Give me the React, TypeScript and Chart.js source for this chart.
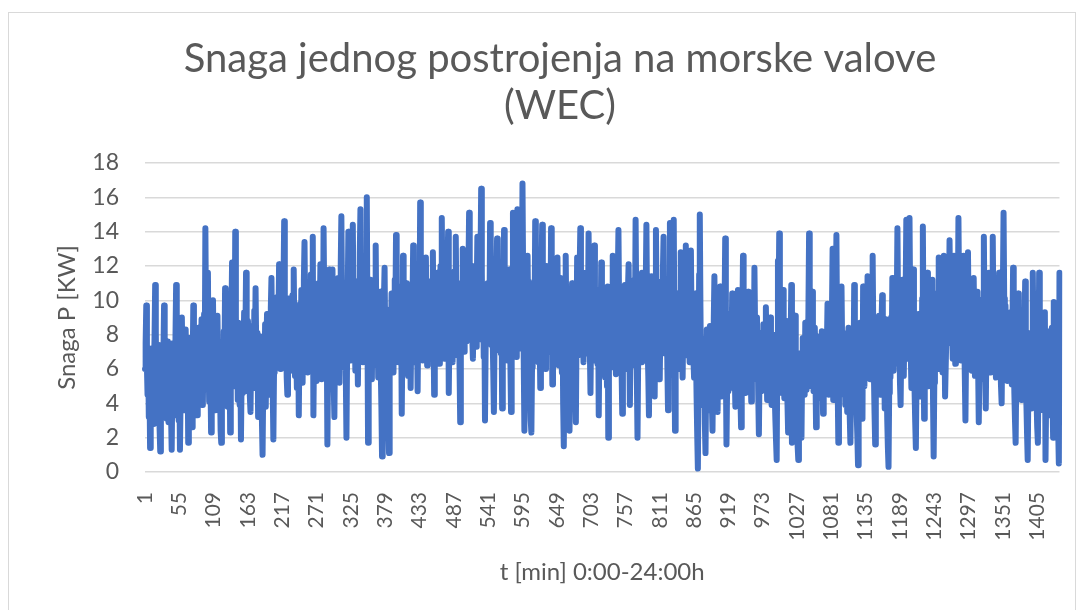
import React, { useEffect, useRef } from 'react';
import { Chart, registerables } from 'chart.js';

Chart.register(...registerables);

// Power of one wave energy converter, one value per minute, grouped per hour
const hour00 = [6.0,7.5,9.7,6.2,4.5,7.0,3.2,5.5,1.4,4.8, 7.2,3.5,6.1,2.8,5.9,7.8,10.9,8.2,4.1,6.6, 3.0,7.4,5.2,2.5,1.2,4.4,7.1,5.6,3.6,6.8, 9.7,7.3,4.2,6.0,3.1,7.6,5.0,2.9,6.4,4.6, 7.2,3.4,1.3,5.1,7.5,4.0,6.3,3.3,7.9,10.9, 8.0,4.7,6.5,3.0,5.7,1.3,4.3,6.9,9.0,6.2];
const hour01 = [5.8,3.6,7.4,4.9,8.3,6.0,3.8,6.7,1.7,5.2, 7.8,4.4,6.9,3.9,2.6,6.2,9.7,7.1,4.6,8.0, 5.5,3.7,3.3,6.4,8.4,5.0,7.3,4.2,6.8,8.9, 5.3,3.9,7.0,9.2,6.1,14.2,8.8,5.4,7.7,11.6, 6.5,4.1,8.1,5.6,2.3,6.0,7.9,10.0,6.3,4.5, 7.6,3.6,6.7,5.0,9.1,6.4,3.9,7.2,5.1,2.4];
const hour02 = [1.7,5.3,7.6,4.8,8.2,6.1,10.7,7.4,4.3,6.9, 3.8,7.7,5.2,8.4,2.3,6.3,9.0,12.2,7.5,5.0, 8.6,6.4,14.0,9.1,5.6,7.8,4.2,8.7,6.0,3.9, 7.1,1.9,5.5,8.3,4.6,7.0,9.3,6.2,8.0,11.6, 7.2,4.7,8.8,5.9,7.4,4.4,3.5,6.6,8.5,5.3, 7.9,4.9,9.4,6.8,10.7,7.3,5.0,8.1,3.2,6.0];
const hour03 = [5.6,7.9,4.1,6.8,3.0,1.0,4.9,7.5,5.4,8.6, 3.8,6.9,9.2,5.7,7.8,4.5,8.9,6.3,9.6,11.3, 7.4,4.8,1.9,5.8,8.2,6.1,9.5,7.0,10.2,6.6, 8.8,12.1,8.5,6.0,9.7,7.2,10.4,8.0,11.0,14.6, 9.9,6.7,8.7,5.5,4.5,7.6,10.1,6.4,9.0,5.9, 8.3,6.8,10.3,7.1,11.8,8.4,5.6,9.3,7.0,4.9];
const hour04 = [6.2,8.9,3.3,7.3,9.8,6.5,10.6,7.8,5.2,9.1, 11.2,13.4,9.4,6.9,10.5,7.5,5.8,9.0,6.4,10.8, 8.1,11.5,7.3,9.9,13.7,3.3,7.0,10.0,6.0,8.7, 5.3,9.6,7.1,11.0,6.6,8.9,12.1,7.7,5.4,9.4, 6.8,14.2,10.2,7.0,9.3,5.6,8.2,1.6,5.9,8.8, 11.8,7.6,9.7,6.1,8.6,11.8,7.2,5.0,3.2,7.4];
const hour05 = [8.2,10.4,6.3,9.0,11.3,7.4,5.2,9.8,12.0,14.9, 10.1,7.0,9.5,6.1,10.6,8.0,5.6,2.0,6.8,10.3, 14.0,9.7,7.3,10.9,6.5,8.9,11.6,14.4,10.0,7.6, 9.2,5.9,8.4,11.1,7.9,5.1,8.8,10.7,12.8,15.3, 10.5,7.2,9.6,6.4,11.4,8.3,10.9,6.7,12.5,16.0, 9.1,1.7,6.3,9.9,7.5,11.2,8.5,5.4,9.4,7.0];
const hour06 = [9.3,6.6,10.2,13.2,9.0,6.2,8.7,5.5,9.8,7.1, 10.5,6.0,3.8,0.9,5.2,8.4,10.1,11.9,7.6,9.5, 6.3,8.1,4.4,2.5,1.1,5.9,8.6,6.8,10.4,7.3, 9.7,5.8,8.9,11.2,9.2,13.8,10.0,7.0,9.4,6.4, 10.8,8.2,6.9,9.6,3.4,7.5,12.6,9.1,6.6,10.3, 7.8,11.0,6.1,8.5,5.6,9.9,7.2,10.6,4.9,8.0];
const hour07 = [7.4,10.1,13.2,9.3,6.4,10.7,7.9,11.4,8.2,4.7, 8.8,11.8,9.0,15.7,10.4,7.1,9.7,6.5,10.9,8.4, 11.3,7.6,12.5,9.2,6.2,10.2,8.0,11.1,6.9,9.5, 7.3,10.6,8.6,12.8,8.3,4.5,7.8,10.8,6.7,9.4, 11.6,7.7,10.0,6.3,9.1,12.0,9.8,14.8,10.5,7.2, 9.9,6.6,11.5,8.7,10.3,7.0,11.9,14.0,4.6,8.1];
const hour08 = [10.4,7.5,11.2,8.6,6.4,10.0,7.9,11.7,9.3,13.7, 9.6,6.8,10.6,8.1,11.0,6.0,2.9,7.4,10.2,8.5, 13.0,9.9,7.0,11.4,8.8,10.8,7.6,12.2,9.4,11.8, 15.1,10.7,8.3,11.5,9.0,7.8,6.6,9.7,12.0,8.9, 11.1,7.3,10.5,13.7,9.5,7.7,11.3,8.4,12.4,16.5, 11.6,8.0,10.9,6.7,9.2,3.0,7.2,10.1,8.2,11.0];
const hour09 = [7.9,10.8,8.5,14.5,10.2,7.4,11.0,8.0,5.9,3.5, 7.6,10.4,8.6,11.6,13.6,9.8,7.1,10.7,8.2,11.3, 6.9,9.5,3.7,7.7,10.9,14.1,10.0,7.5,11.2,8.8, 6.5,10.3,8.4,11.8,9.1,6.3,3.5,8.1,11.4,15.1, 10.6,7.8,11.9,9.3,6.7,10.1,15.3,11.7,8.3,10.5, 7.2,9.6,12.3,9.0,16.8,11.5,6.4,2.4,7.0,10.2];
const hour10 = [9.4,6.8,12.6,9.0,11.1,7.3,4.9,3.0,2.3,6.1, 9.9,7.7,11.0,8.5,14.6,10.3,7.2,11.5,8.9,6.4, 10.6,8.0,4.9,8.7,11.9,14.4,10.1,7.6,11.2,8.3, 6.0,9.7,12.0,8.6,10.8,7.0,9.5,11.7,8.2,14.2, 9.8,5.1,8.8,11.4,7.5,10.0,6.6,9.3,7.9,12.5, 9.1,6.2,10.4,7.4,11.3,8.1,5.8,9.6,4.0,1.5];
const hour11 = [6.2,9.4,12.6,8.8,6.0,10.1,7.3,4.6,2.4,6.7, 9.8,7.5,11.0,8.4,6.1,9.6,7.0,5.2,2.9,7.8, 12.5,9.3,6.8,10.5,11.8,14.2,10.0,7.4,11.3,8.6, 6.4,10.2,7.9,11.6,8.1,6.9,10.7,9.0,13.9,10.4, 7.1,4.6,8.3,11.1,7.7,9.9,6.5,13.2,9.5,7.2, 10.6,8.0,6.3,9.7,3.3,7.6,10.3,8.5,12.2,8.9];
const hour12 = [7.1,10.0,6.4,8.9,5.5,9.3,7.0,5.0,10.8,2.0, 6.6,9.6,7.3,10.4,8.2,6.1,12.6,9.1,6.9,10.5, 7.8,5.7,9.4,7.2,11.3,14.1,9.8,6.7,10.2,7.5, 5.8,3.4,7.0,9.7,6.3,10.9,8.4,6.0,9.2,7.4, 10.6,12.1,8.0,3.9,7.6,10.3,8.7,6.2,9.5,7.1, 11.2,8.6,14.7,9.9,5.4,2.0,6.5,9.0,7.3,11.5];
const hour13 = [8.1,6.4,11.6,8.3,10.5,7.0,9.4,6.5,10.9,14.4, 9.7,7.2,5.6,3.3,7.5,10.2,8.0,11.4,8.5,6.6, 9.8,7.4,4.4,9.0,14.1,10.0,7.7,11.1,8.2,6.8, 5.4,8.8,10.7,7.6,9.5,11.8,13.7,9.3,6.9,10.4, 7.3,9.9,6.1,3.6,7.9,10.8,14.5,10.1,7.0,9.6, 6.7,11.0,14.7,8.4,2.4,6.3,9.2,7.1,10.3,6.0];
const hour14 = [9.2,6.9,10.5,12.8,9.0,7.4,5.5,8.6,11.0,7.8, 9.7,13.2,9.4,6.8,10.1,7.5,9.3,6.4,10.6,12.9, 8.8,7.1,9.9,6.6,5.5,8.2,10.4,7.0,4.3,2.1, 0.2,6.0,11.5,15.0,9.6,5.2,7.8,3.9,6.5,4.2, 7.0,2.8,1.1,5.4,8.3,4.6,7.4,3.6,6.9,8.5, 5.0,7.6,4.1,2.4,6.2,8.8,11.4,7.2,4.8,8.0];
const hour15 = [5.7,3.5,7.3,5.1,8.2,10.8,6.8,4.4,7.9,5.3, 8.7,6.1,9.5,13.6,6.4,1.6,5.0,7.7,4.7,8.5, 6.2,9.2,5.6,7.4,10.4,7.0,4.9,8.1,5.8,3.8, 7.1,9.0,6.3,10.6,7.6,5.2,8.4,4.3,2.6,6.6, 9.1,12.6,8.0,5.5,7.8,4.6,8.9,6.7,5.1,10.5, 7.2,4.8,8.3,6.0,4.1,7.5,5.4,8.6,6.5,11.9];
const hour16 = [8.4,6.1,9.0,5.4,7.6,4.5,2.2,5.8,8.1,6.3, 4.7,7.9,5.5,8.6,6.0,4.9,7.3,9.6,6.6,4.2, 7.0,5.3,8.2,6.4,9.0,5.7,3.9,7.5,5.0,8.0, 6.2,4.4,3.0,1.8,0.7,7.0,12.3,9.5,13.9,8.7, 5.6,7.8,4.6,8.3,10.6,6.9,4.3,7.4,5.9,8.8, 6.5,4.0,2.3,6.1,8.5,5.2,7.7,10.9,1.7,5.6];
const hour17 = [6.8,4.6,7.5,9.1,6.2,4.0,2.9,1.5,0.7,4.4, 6.9,5.1,3.6,2.0,5.7,7.8,5.3,6.6,4.5,8.7, 6.3,4.8,7.1,5.4,9.6,13.9,8.0,5.9,7.6,5.0, 10.5,7.2,4.7,6.5,8.4,5.6,2.6,5.2,7.9,4.3, 6.7,5.1,7.7,4.9,6.4,8.2,5.5,3.4,6.0,7.4, 4.6,8.0,6.1,7.3,9.8,6.8,4.5,7.6,5.3,8.6];
const hour18 = [6.9,9.4,13.0,4.2,7.1,10.3,6.5,9.9,13.8,8.2, 5.0,1.7,5.8,8.0,6.3,4.8,10.8,7.4,5.2,8.1, 4.5,6.7,3.9,7.2,5.6,3.5,6.0,8.4,5.1,3.2, 1.7,4.9,7.0,5.4,8.3,6.2,10.9,7.5,4.6,6.8, 3.3,2.0,0.4,4.1,6.6,8.7,5.5,7.7,4.7,3.1, 10.8,7.3,5.0,8.5,6.1,9.2,7.0,11.4,8.0,8.9];
const hour19 = [7.8,5.4,8.6,6.2,9.5,12.6,8.1,5.7,3.4,1.6, 5.0,7.6,4.8,8.3,6.0,9.1,6.9,4.5,7.4,8.8, 10.3,7.0,5.3,8.0,3.7,6.4,8.9,5.8,3.0,1.4, 0.3,4.6,7.7,5.5,9.0,6.7,11.3,8.2,5.9,9.3, 7.1,10.2,6.5,9.8,14.2,9.6,6.3,8.4,5.2,3.9, 7.3,9.4,11.2,7.9,5.6,8.7,6.8,10.7,14.7,9.7];
const hour20 = [6.6,9.9,7.2,14.8,10.0,7.0,4.9,8.4,6.1,11.8, 7.5,4.7,2.9,1.4,5.3,8.0,6.2,9.2,5.6,7.8, 4.4,8.6,6.5,10.1,14.3,8.3,3.1,6.9,9.0,5.9, 8.2,11.6,7.4,5.0,8.8,6.4,9.5,7.1,5.4,11.2, 4.3,0.9,5.2,8.5,6.8,10.4,7.6,9.6,6.0,12.5, 9.1,7.3,10.6,6.7,9.3,5.8,8.9,12.6,8.1,4.4];
const hour21 = [4.4,8.0,10.9,7.7,11.5,9.4,13.5,10.2,7.5,11.0, 8.4,6.6,9.8,12.6,8.9,6.3,10.1,7.9,11.3,9.0, 14.8,10.5,7.4,9.7,6.5,10.3,8.1,11.1,12.6,8.6, 5.7,3.0,6.9,9.9,7.8,12.8,9.3,6.8,10.4,7.2, 9.1,5.9,8.7,6.4,11.3,8.3,5.6,9.5,7.0,8.5, 10.5,6.1,2.9,6.2,8.8,5.4,7.6,10.0,6.9,9.2];
const hour22 = [13.7,9.1,6.0,3.7,7.3,9.6,6.6,8.9,11.6,8.0, 5.8,9.4,7.1,10.3,13.7,9.2,6.7,10.0,7.6,5.5, 8.7,6.2,9.5,7.4,11.6,8.2,6.4,5.0,4.0,7.8, 10.9,15.1,10.1,7.0,9.7,6.3,8.6,5.3,9.0,6.9, 8.1,5.7,9.3,7.2,5.1,8.4,11.9,7.5,4.6,3.0, 1.7,5.6,8.0,6.1,10.4,7.3,4.9,8.3,6.5,4.2];
const hour23 = [6.8,4.5,7.4,5.2,8.3,11.1,6.6,3.9,2.2,0.7, 4.8,7.0,5.3,8.1,6.0,3.7,7.5,11.6,7.9,5.4, 8.5,4.7,6.9,4.0,2.6,1.7,6.2,11.6,7.3,5.0, 8.0,4.4,6.7,3.6,7.2,5.5,9.3,0.7,4.1,6.4, 8.2,5.1,3.3,6.8,4.6,7.7,5.6,8.4,4.3,2.0, 9.9,6.3,4.2,7.0,5.0,3.1,6.1,2.4,0.5,11.6];

const power = [
  ...hour00, ...hour01, ...hour02, ...hour03, ...hour04, ...hour05,
  ...hour06, ...hour07, ...hour08, ...hour09, ...hour10, ...hour11,
  ...hour12, ...hour13, ...hour14, ...hour15, ...hour16, ...hour17,
  ...hour18, ...hour19, ...hour20, ...hour21, ...hour22, ...hour23,
];
const minutes = power.map((_, i) => String(i + 1));
const tickStep = 54;

const titleLines = ['Snaga jednog postrojenja na morske valove', '(WEC)'];
const xTitle = 't [min] 0:00-24:00h';
const yTitle = 'Snaga P [KW]';

const FONT = 'Lato, "Open Sans", sans-serif';
const TEXT = '#595959';

export default function App() {
  const ref = useRef<HTMLCanvasElement>(null);
  useEffect(() => {
    const canvas = ref.current;
    if (!canvas) return;
    const chart = new Chart(canvas, {
      type: 'line',
      data: {
        labels: minutes,
        datasets: [
          {
            data: power,
            borderColor: '#4472C4',
            backgroundColor: '#4472C4',
            borderWidth: 6,
            pointRadius: 0,
            tension: 0,
            borderJoinStyle: 'round',
            borderCapStyle: 'round',
            fill: false,
          },
        ],
      },
      options: {
        responsive: false,
        animation: false,
        devicePixelRatio: 1,
        layout: { padding: { left: 60, right: 23, top: 0, bottom: 0 } },
        plugins: {
          legend: { display: false },
          tooltip: { enabled: false },
          title: {
            display: true,
            text: titleLines,
            color: TEXT,
            font: { family: FONT, size: 40, weight: 'normal', lineHeight: 1.175 },
            padding: { top: 35.5, bottom: 33.5 },
          },
        },
        scales: {
          x: {
            grid: { display: false, drawTicks: false },
            border: { display: false },
            ticks: {
              autoSkip: false,
              maxRotation: 90,
              minRotation: 90,
              padding: 20,
              color: TEXT,
              font: { family: FONT, size: 21 },
            },
            afterBuildTicks: (s: any) => {
              s.ticks = s.ticks.filter((t: any) => t.value % tickStep === 0);
            },
            afterFit: (s: any) => {
              s.height = 138;
            },
            title: {
              display: true,
              text: xTitle,
              color: TEXT,
              font: { family: FONT, size: 24 },
              padding: { top: 0, bottom: 23.6 },
            },
          },
          y: {
            min: 0,
            max: 18,
            ticks: {
              stepSize: 2,
              padding: 26,
              color: TEXT,
              font: { family: FONT, size: 23 },
            },
            grid: { color: '#d9d9d9', lineWidth: 1.5, drawTicks: false },
            border: { display: false },
            afterFit: (s: any) => {
              s.width = 85;
            },
            title: {
              display: true,
              text: yTitle,
              color: TEXT,
              font: { family: FONT, size: 24, lineHeight: 0.6 },
              padding: { top: 0, bottom: 0 },
            },
          },
        },
      },
    } as any);
    return () => chart.destroy();
  }, []);

  return (
    <>
      <div
        style={{
          position: 'fixed',
          left: 8,
          top: 12,
          width: 1068,
          height: 640,
          border: '1px solid #d9d9d9',
          boxSizing: 'border-box',
        }}
      />
      <canvas
        ref={ref}
        width={1083}
        height={610}
        style={{ position: 'fixed', left: 0, top: 0 }}
      />
    </>
  );
}
